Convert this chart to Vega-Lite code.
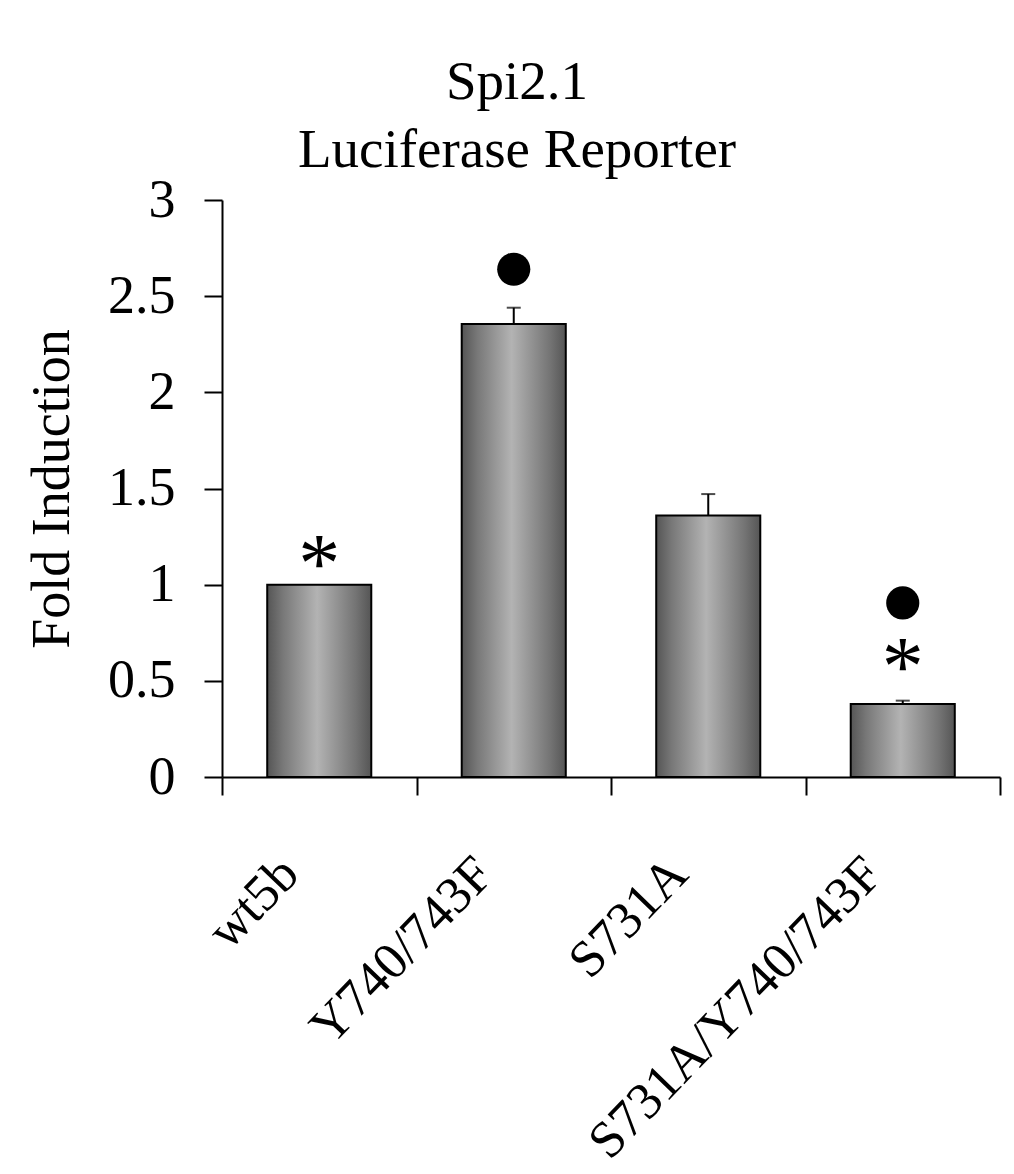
{
  "$schema": "https://vega.github.io/schema/vega-lite/v6.json",
  "width": 778,
  "height": 577,
  "autosize": {"type": "none"},
  "padding": {"left": 222, "top": 200, "right": 14, "bottom": 397},
  "background": "white",
  "config": {"view": {"stroke": null}, "font": "Liberation Serif"},
  "title": {
    "text": ["Spi2.1", "Luciferase Reporter"],
    "font": "Liberation Serif",
    "fontSize": 55,
    "fontWeight": "normal",
    "color": "black",
    "lineHeight": 68,
    "anchor": "middle",
    "dx": -94,
    "offset": -6
  },
  "datasets": {
    "bars": [
      {"construct": "wt5b", "fold": 1.0},
      {"construct": "Y740/743F", "fold": 2.355, "upper": 2.44},
      {"construct": "S731A", "fold": 1.359, "upper": 1.471},
      {"construct": "S731A/Y740/743F", "fold": 0.38, "upper": 0.397}
    ],
    "dots": [
      {"construct": "Y740/743F", "y": 2.64},
      {"construct": "S731A/Y740/743F", "y": 0.905}
    ],
    "stars": [
      {"construct": "wt5b", "y": 1.165},
      {"construct": "S731A/Y740/743F", "y": 0.63}
    ]
  },
  "encoding": {
    "x": {
      "field": "construct",
      "type": "nominal",
      "sort": ["wt5b", "Y740/743F", "S731A", "S731A/Y740/743F"],
      "scale": {"paddingInner": 0, "paddingOuter": 0},
      "axis": {
        "title": null,
        "tickBand": "extent",
        "domainColor": "black",
        "domainWidth": 2,
        "tickColor": "black",
        "tickWidth": 2,
        "tickSize": 18,
        "labelAngle": -46,
        "labelAlign": "right",
        "labelBaseline": "middle",
        "labelFont": "Liberation Serif",
        "labelFontSize": 52,
        "labelColor": "black",
        "labelOffset": -30,
        "labelPadding": 70,
        "labelLimit": 1000,
        "labelOverlap": false,
        "labelBound": false
      }
    }
  },
  "layer": [
    {
      "data": {"name": "bars"},
      "mark": {
        "type": "bar",
        "width": {"band": 0.535},
        "stroke": "black",
        "strokeWidth": 2,
        "fill": {
          "gradient": "linear",
          "x1": 0, "x2": 1, "y1": 0, "y2": 0,
          "stops": [
            {"offset": 0, "color": "#555555"},
            {"offset": 0.15, "color": "#787878"},
            {"offset": 0.48, "color": "#b3b3b3"},
            {"offset": 0.85, "color": "#747474"},
            {"offset": 1, "color": "#555555"}
          ]
        }
      },
      "encoding": {
        "y": {
          "field": "fold",
          "type": "quantitative",
          "scale": {"domain": [0, 3], "nice": false},
          "axis": {
            "values": [0, 0.5, 1, 1.5, 2, 2.5, 3],
            "labelExpr": "datum.value + ''",
            "grid": false,
            "domainColor": "black",
            "domainWidth": 2,
            "tickColor": "black",
            "tickWidth": 2,
            "tickSize": 18,
            "labelFont": "Liberation Serif",
            "labelFontSize": 54,
            "labelColor": "black",
            "labelPadding": 29,
            "title": "Fold Induction",
            "titleFont": "Liberation Serif",
            "titleFontSize": 54,
            "titleFontWeight": "normal",
            "titleColor": "black",
            "titlePadding": 28
          }
        }
      }
    },
    {
      "data": {"name": "bars"},
      "transform": [{"filter": "isValid(datum.upper)"}],
      "mark": {"type": "rule", "color": "black", "strokeWidth": 2},
      "encoding": {
        "y": {"field": "fold", "type": "quantitative"},
        "y2": {"field": "upper"}
      }
    },
    {
      "data": {"name": "bars"},
      "transform": [{"filter": "isValid(datum.upper)"}],
      "mark": {"type": "tick", "color": "black", "size": 14, "thickness": 2},
      "encoding": {
        "y": {"field": "upper", "type": "quantitative"}
      }
    },
    {
      "data": {"name": "dots"},
      "mark": {"type": "point", "shape": "circle", "filled": true, "color": "black", "opacity": 1, "size": 1100},
      "encoding": {
        "y": {"field": "y", "type": "quantitative"}
      }
    },
    {
      "data": {"name": "stars"},
      "mark": {"type": "text", "text": "*", "font": "Liberation Serif", "fontSize": 84, "color": "black", "baseline": "alphabetic", "dy": 39},
      "encoding": {
        "y": {"field": "y", "type": "quantitative"}
      }
    }
  ]
}
